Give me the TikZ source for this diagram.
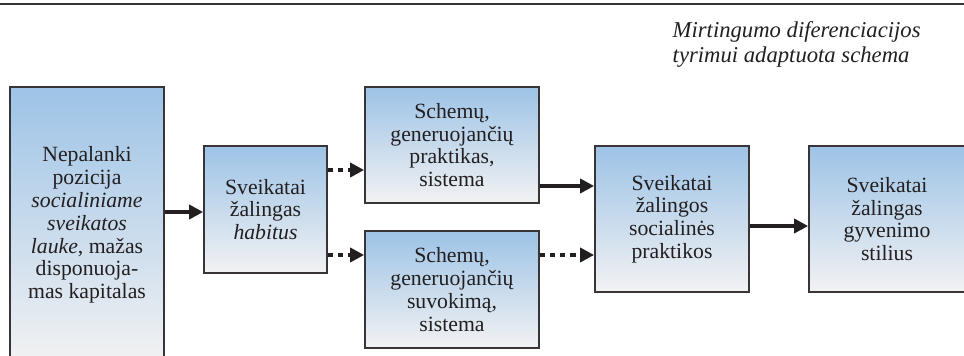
\documentclass[tikz,border=0pt]{standalone}
\usepackage{fontspec}
\setmainfont{Liberation Serif}
\usetikzlibrary{arrows.meta}
\definecolor{boxtop}{RGB}{157,195,230}
\definecolor{boxbot}{RGB}{242,242,243}
\definecolor{ink}{RGB}{35,31,32}

\begin{document}
\begin{tikzpicture}[x=0.75pt,y=0.75pt,
		blok/.style={draw=ink!90,line width=1.3pt,top color=boxtop,bottom color=boxbot,
			align=center,inner sep=0pt,text=ink,font=\fontsize{16.3}{17.1}\selectfont},
		rodykle/.style={draw=ink,line width=3.2pt,-{Triangle[length=10.5pt,width=10.5pt]}},
		taskine/.style={rodykle,dash pattern=on 4pt off 3.6pt}]
			\useasboundingbox (0,0) rectangle (964,355);
			\draw[ink!90,line width=2pt](0,351)--(964,351);
			\node[anchor=west,align=left,text=ink,font=\itshape\fontsize{17}{18.75}\selectfont] (antraste) at (668,310.5)
				{Mirtingumo diferenciacijos\\tyrimui adaptuota schema};
			\node[blok,minimum width=115.5pt,minimum height=207pt] (pozicija) at (87,130)
				{Nepalanki\\pozicija\\\textit{socialiniame}\\\textit{sveikatos}\\\textit{lauke}, mažas\\disponuoja-\\mas kapitalas};
			\node[blok,minimum width=92.25pt,minimum height=95.25pt] (habitus) at (265.5,145.5)
				{Sveikatai\\žalingas\\\textit{habitus}};
			\node[blok,minimum width=130.5pt,minimum height=87pt] (praktikas) at (452,210)
				{Schemų,\\generuojančių\\praktikas,\\sistema};
			\node[blok,minimum width=130.5pt,minimum height=87.75pt] (suvokima) at (452,65.5)
				{Schemų,\\generuojančių\\suvokimą,\\sistema};
			\node[blok,minimum width=115.5pt,minimum height=109.5pt] (praktikos) at (672,136)
				{Sveikatai\\žalingos\\socialinės\\praktikos};
			\node[blok,minimum width=117pt,minimum height=109.5pt] (stilius) at (887,136)
				{Sveikatai\\žalingas\\gyvenimo\\stilius};
			\draw[rodykle](pozicija.east|-0,143)--(habitus.west|-0,143);
			\draw[taskine](habitus.east|-0,185)--(praktikas.west|-0,185);
			\draw[taskine](habitus.east|-0,100)--(suvokima.west|-0,100);
			\draw[rodykle](praktikas.east|-0,169)--(praktikos.west|-0,169);
			\draw[taskine](suvokima.east|-0,100)--(praktikos.west|-0,100);
			\draw[rodykle](praktikos.east|-0,129)--(stilius.west|-0,129);
		\end{tikzpicture}
\end{document}
